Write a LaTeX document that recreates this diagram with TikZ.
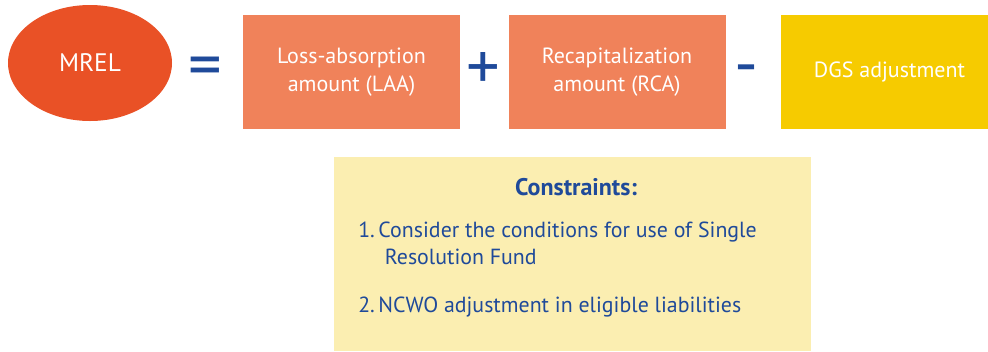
\documentclass[tikz,border=0pt]{standalone}
\usepackage{fontspec}
\setmainfont{PT Sans}
\usetikzlibrary{shapes.geometric}

\definecolor{mrelred}{HTML}{E95126}
\definecolor{amountorange}{HTML}{F0825A}
\definecolor{dgsyellow}{HTML}{F6CB00}
\definecolor{noteyellow}{HTML}{FBEEB1}
\definecolor{opblue}{HTML}{1F4A9A}

\tikzset{
  amountbox/.style={fill=amountorange, text=white, align=center,
    minimum width=162.75pt, minimum height=85.5pt, inner sep=0pt,
    font=\fontsize{16.5}{21}\selectfont},
  opsign/.style={text=opblue, font=\fontsize{50}{50}\selectfont, inner sep=0pt},
  listtext/.style={text=opblue, anchor=north west, inner sep=0pt, align=left,
    font=\fontsize{16.4}{20.25}\selectfont}
}

\begin{document}
\begin{tikzpicture}[x=0.75pt, y=-0.75pt]
    %%%%% START %%%%%
    \useasboundingbox (0, 0) rectangle (988, 351);

    \node[ellipse, fill=mrelred, text=white, minimum width=123pt, minimum height=87pt,
      inner sep=0pt, font=\fontsize{19}{22}\selectfont] (mrel) at (90, 63) {MREL};

    \node[opsign] (eq) at (205, 72) {=};

    \node[amountbox] (laa) at (351.5, 72) {Loss-absorption\\amount (LAA)};

    \node[opsign] (plus) at (483, 71) {+};

    \node[amountbox] (rca) at (617, 72) {Recapitalization\\amount (RCA)};

    \node[opsign] (minus) at (746, 76) {-};

    \node[amountbox, fill=dgsyellow] (dgs) at (889.5, 72) {DGS adjustment};

    % constraints panel
    \fill[noteyellow] (334, 157) rectangle (811, 351);
    \node[text=opblue, font=\bfseries\fontsize{18}{20}\selectfont, inner sep=0pt]
      (title) at (576, 187) {Constraints:};

    \node[listtext] (item1) at (358, 222)
      {1.\,Consider the conditions for use of Single\\\hspace*{20pt}Resolution Fund};
    \node[listtext] (item2) at (358, 297) {2.\,NCWO adjustment in eligible liabilities};
    %%%%% END %%%%%
\end{tikzpicture}
\end{document}
